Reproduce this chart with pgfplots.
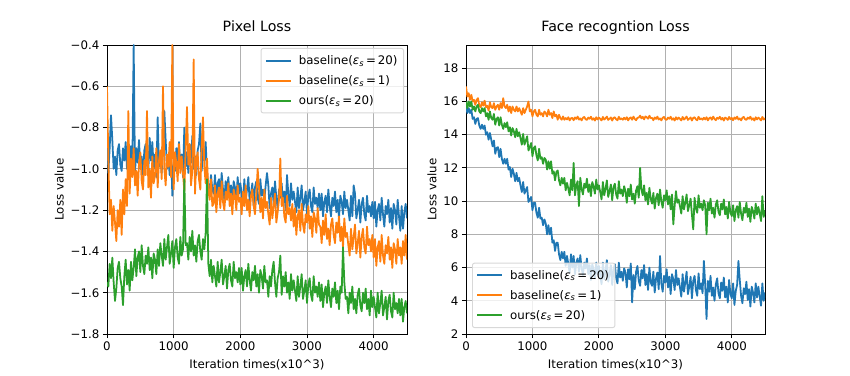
\documentclass[border=0pt]{standalone}
\usepackage{pgfplots}
\pgfplotsset{compat=1.18}
\usepackage{fontspec}
\setmainfont{DejaVu Sans}
\definecolor{c1}{HTML}{1F77B4}
\definecolor{c2}{HTML}{FF7F0E}
\definecolor{c3}{HTML}{2CA02C}
\definecolor{gridc}{HTML}{B0B0B0}
\definecolor{legc}{HTML}{D8D8D8}
\newcommand{\fs}{\fontsize{11.8}{14}\selectfont}
\pgfplotsset{
  myax/.style={
    scale only axis, width=300pt, height=289pt,
    xmin=0, xmax=4500,
    xtick={0,1000,2000,3000,4000},
    xticklabels={0,1000,2000,3000,4000},
    xtick pos=left, ytick pos=left,
    tick align=outside, major tick length=4.1pt,
    tick style={black, line width=0.94pt},
    axis line style={line width=0.94pt},
    grid=major, major grid style={gridc, line width=0.94pt},
    tick label style={font=\fs},
    label style={font=\fs},
    title style={font=\fontsize{14.2}{17}\selectfont, at={(0.5,1)}, anchor=base, yshift=7pt},
    xlabel={Iteration times(x10\textasciicircum 3)},
    xlabel style={at={(0.5,0)}, anchor=base, yshift=-34pt},
    ylabel={Loss value},
    legend cell align=left,
    legend image code/.code={\draw[##1] (0pt,0pt) -- (25pt,0pt);},
    legend style={draw=legc, fill=white, fill opacity=0.8, text opacity=1, line width=0.94pt,
      rounded corners=2pt, font=\fs, row sep=5.5pt, column sep=5pt, inner xsep=4pt, inner ysep=5pt},
  },
  b1/.style={c1, line width=1.77pt, line join=round},
  b2/.style={c2, line width=1.77pt, line join=round},
  b3/.style={c3, line width=1.77pt, line join=round},
}
\begin{document}
\begin{tikzpicture}
\path[use as bounding box] (0,0) rectangle (850pt,375pt);
\begin{axis}[myax, at={(107pt,41pt)}, anchor=south west,
  title={Pixel Loss},
  ymin=-1.8, ymax=-0.4,
  ytick={-1.8,-1.6,-1.4,-1.2,-1.0,-0.8,-0.6,-0.4},
  yticklabels={−1.8,−1.6,−1.4,−1.2,−1.0,−0.8,−0.6,−0.4},
  legend style={at={(1,1)}, anchor=north east, xshift=-3pt, yshift=-3pt},
]
\addplot[b1] table[header=false, row sep=\\, x expr=\coordindex*20, y index=0] {
-0.75\\ -1.02\\ -0.90\\ -0.74\\ -0.86\\ -1.00\\ -0.94\\ -1.03\\ -0.91\\ -0.88\\
-0.98\\ -1.01\\ -0.90\\ -0.96\\ -0.87\\ -1.00\\ -0.93\\ -1.04\\ -0.89\\ -0.99\\
-0.40\\ -1.02\\ -0.90\\ -0.97\\ -0.86\\ -1.00\\ -0.94\\ -1.03\\ -0.91\\ -0.88\\
-0.98\\ -1.01\\ -0.85\\ -0.96\\ -0.87\\ -1.00\\ -0.93\\ -1.04\\ -0.75\\ -0.99\\
-0.92\\ -1.02\\ -0.90\\ -0.72\\ -0.86\\ -1.00\\ -0.94\\ -1.03\\ -0.91\\ -1.13\\
-0.98\\ -1.01\\ -0.90\\ -0.96\\ -0.87\\ -1.00\\ -0.93\\ -1.04\\ -0.80\\ -0.99\\
-0.92\\ -1.02\\ -0.88\\ -0.97\\ -0.84\\ -1.00\\ -0.94\\ -1.03\\ -0.91\\ -0.88\\
-0.78\\ -1.01\\ -0.90\\ -0.96\\ -0.87\\ -1.02\\ -1.08\\ -1.12\\ -1.03\\ -1.10\\
-1.12\\ -1.03\\ -1.15\\ -1.07\\ -1.05\\ -1.13\\ -1.02\\ -1.10\\ -1.15\\ -1.06\\
-1.11\\ -1.04\\ -1.14\\ -1.08\\ -1.17\\ -1.06\\ -1.09\\ -1.15\\ -1.04\\ -1.12\\
-1.07\\ -1.12\\ -1.17\\ -1.05\\ -1.15\\ -1.10\\ -1.04\\ -1.16\\ -1.12\\ -1.07\\
-1.18\\ -1.09\\ -1.06\\ -1.14\\ -1.17\\ -1.05\\ -1.13\\ -1.10\\ -1.15\\ -1.08\\
-1.02\\ -1.08\\ -1.19\\ -1.12\\ -1.09\\ -1.17\\ -1.06\\ -1.14\\ -1.19\\ -1.10\\
-1.14\\ -1.07\\ -1.17\\ -1.11\\ -1.20\\ -1.03\\ -1.12\\ -1.18\\ -1.07\\ -1.15\\
-1.11\\ -1.16\\ -1.21\\ -1.09\\ -1.19\\ -1.14\\ -1.08\\ -1.20\\ -1.16\\ -1.11\\
-1.22\\ -1.13\\ -1.10\\ -1.18\\ -1.21\\ -1.09\\ -1.17\\ -1.14\\ -1.19\\ -1.12\\
-1.20\\ -1.12\\ -1.23\\ -1.16\\ -1.13\\ -1.21\\ -1.10\\ -1.18\\ -1.23\\ -1.14\\
-1.18\\ -1.11\\ -1.21\\ -1.15\\ -1.24\\ -1.13\\ -1.16\\ -1.22\\ -1.11\\ -1.19\\
-1.15\\ -1.20\\ -1.25\\ -1.13\\ -1.23\\ -1.08\\ -1.12\\ -1.24\\ -1.20\\ -1.15\\
-1.26\\ -1.17\\ -1.14\\ -1.22\\ -1.25\\ -1.13\\ -1.21\\ -1.18\\ -1.23\\ -1.16\\
-1.24\\ -1.16\\ -1.28\\ -1.20\\ -1.17\\ -1.25\\ -1.14\\ -1.22\\ -1.28\\ -1.18\\
-1.22\\ -1.15\\ -1.26\\ -1.19\\ -1.29\\ -1.17\\ -1.20\\ -1.27\\ -1.15\\ -1.23\\
-1.30\\ -1.18\\ -1.29\\ -1.21\\ -1.17\\ -1.24\\
};
\addlegendentry{baseline(\textit{ε}\textsubscript{\textit{s}}\,=\,20)}
\addplot[b2] table[header=false, row sep=\\, x expr=\coordindex*20, y index=0] {
-0.60\\ -0.95\\ -1.22\\ -1.15\\ -1.30\\ -1.18\\ -1.26\\ -1.35\\ -1.20\\ -1.28\\
-1.15\\ -1.32\\ -1.10\\ -1.22\\ -1.05\\ -1.18\\ -0.72\\ -1.12\\ -0.95\\ -1.04\\
-0.90\\ -1.08\\ -1.01\\ -1.13\\ -0.97\\ -0.92\\ -1.06\\ -1.10\\ -0.96\\ -1.03\\
-0.72\\ -1.09\\ -1.00\\ -1.14\\ -0.94\\ -1.07\\ -1.03\\ -0.90\\ -1.09\\ -0.96\\
-0.91\\ -1.05\\ -0.60\\ -1.00\\ -1.08\\ -0.93\\ -0.99\\ -0.87\\ -1.04\\ -0.40\\
-1.10\\ -0.92\\ -0.97\\ -1.06\\ -0.88\\ -1.02\\ -0.94\\ -1.02\\ -1.11\\ -0.90\\
-0.70\\ -0.98\\ -0.88\\ -1.08\\ -1.01\\ -0.47\\ -1.12\\ -0.96\\ -0.92\\ -1.05\\
-1.10\\ -0.89\\ -0.75\\ -0.99\\ -1.07\\ -0.95\\ -1.10\\ -1.15\\ -1.05\\ -1.18\\
-1.17\\ -1.08\\ -1.21\\ -1.12\\ -1.09\\ -1.19\\ -1.06\\ -1.16\\ -1.20\\ -1.11\\
-1.15\\ -1.07\\ -1.18\\ -1.12\\ -1.22\\ -1.10\\ -1.13\\ -1.20\\ -1.08\\ -1.16\\
-1.14\\ -1.22\\ -1.11\\ -1.18\\ -1.08\\ -1.20\\ -1.15\\ -1.23\\ -1.13\\ -1.10\\
-1.18\\ -1.22\\ -1.12\\ -1.00\\ -1.09\\ -1.21\\ -1.14\\ -1.24\\ -1.10\\ -1.19\\
-1.16\\ -1.22\\ -1.27\\ -1.14\\ -1.24\\ -1.18\\ -1.12\\ -1.26\\ -1.21\\ -1.15\\
-0.95\\ -1.18\\ -1.14\\ -1.23\\ -1.26\\ -1.13\\ -1.22\\ -1.19\\ -1.25\\ -1.17\\
-1.28\\ -1.19\\ -1.32\\ -1.23\\ -1.20\\ -1.30\\ -1.17\\ -1.27\\ -1.31\\ -1.22\\
-1.26\\ -1.18\\ -1.29\\ -1.23\\ -1.33\\ -1.21\\ -1.24\\ -1.31\\ -1.19\\ -1.27\\
-1.28\\ -1.36\\ -1.25\\ -1.32\\ -1.22\\ -1.34\\ -1.29\\ -1.37\\ -1.27\\ -1.24\\
-1.32\\ -1.36\\ -1.26\\ -1.31\\ -1.23\\ -1.35\\ -1.28\\ -1.38\\ -1.24\\ -1.33\\
-1.31\\ -1.37\\ -1.42\\ -1.29\\ -1.39\\ -1.33\\ -1.27\\ -1.41\\ -1.36\\ -1.30\\
-1.43\\ -1.33\\ -1.29\\ -1.38\\ -1.41\\ -1.28\\ -1.37\\ -1.34\\ -1.40\\ -1.32\\
-1.43\\ -1.34\\ -1.47\\ -1.38\\ -1.35\\ -1.45\\ -1.32\\ -1.42\\ -1.46\\ -1.37\\
-1.41\\ -1.33\\ -1.44\\ -1.38\\ -1.48\\ -1.36\\ -1.39\\ -1.46\\ -1.34\\ -1.42\\
-1.38\\ -1.46\\ -1.35\\ -1.42\\ -1.32\\ -1.44\\
};
\addlegendentry{baseline(\textit{ε}\textsubscript{\textit{s}}\,=\,1)}
\addplot[b3] table[header=false, row sep=\\, x expr=\coordindex*20, y index=0] {
-1.55\\ -1.57\\ -1.46\\ -1.53\\ -1.43\\ -1.55\\ -1.64\\ -1.58\\ -1.48\\ -1.45\\
-1.53\\ -1.57\\ -1.66\\ -1.52\\ -1.44\\ -1.56\\ -1.49\\ -1.59\\ -1.45\\ -1.54\\
-1.48\\ -1.39\\ -1.52\\ -1.43\\ -1.40\\ -1.50\\ -1.37\\ -1.47\\ -1.51\\ -1.42\\
-1.46\\ -1.38\\ -1.49\\ -1.43\\ -1.53\\ -1.41\\ -1.44\\ -1.51\\ -1.39\\ -1.47\\
-1.36\\ -1.42\\ -1.47\\ -1.34\\ -1.44\\ -1.38\\ -1.32\\ -1.46\\ -1.41\\ -1.35\\
-1.48\\ -1.38\\ -1.34\\ -1.43\\ -1.46\\ -1.33\\ -1.42\\ -1.39\\ -1.05\\ -1.37\\
-1.36\\ -1.44\\ -1.33\\ -1.40\\ -1.30\\ -1.42\\ -1.37\\ -1.45\\ -1.35\\ -1.32\\
-1.40\\ -1.44\\ -1.34\\ -1.39\\ -1.31\\ -1.05\\ -1.46\\ -1.52\\ -1.44\\ -1.55\\
-1.47\\ -1.52\\ -1.57\\ -1.45\\ -1.55\\ -1.50\\ -1.44\\ -1.56\\ -1.52\\ -1.47\\
-1.58\\ -1.49\\ -1.46\\ -1.54\\ -1.57\\ -1.45\\ -1.53\\ -1.50\\ -1.55\\ -1.48\\
-1.56\\ -1.48\\ -1.59\\ -1.52\\ -1.49\\ -1.57\\ -1.46\\ -1.54\\ -1.59\\ -1.50\\
-1.54\\ -1.47\\ -1.57\\ -1.51\\ -1.60\\ -1.49\\ -1.52\\ -1.58\\ -1.47\\ -1.55\\
-1.54\\ -1.62\\ -1.52\\ -1.57\\ -1.49\\ -1.45\\ -1.55\\ -1.62\\ -1.53\\ -1.50\\
-1.42\\ -1.61\\ -1.52\\ -1.57\\ -1.50\\ -1.60\\ -1.55\\ -1.63\\ -1.51\\ -1.59\\
-1.54\\ -1.59\\ -1.64\\ -1.52\\ -1.62\\ -1.57\\ -1.51\\ -1.63\\ -1.59\\ -1.54\\
-1.65\\ -1.56\\ -1.53\\ -1.61\\ -1.64\\ -1.52\\ -1.60\\ -1.57\\ -1.62\\ -1.55\\
-1.64\\ -1.56\\ -1.67\\ -1.60\\ -1.57\\ -1.65\\ -1.54\\ -1.62\\ -1.67\\ -1.58\\
-1.62\\ -1.55\\ -1.65\\ -1.59\\ -1.68\\ -1.57\\ -1.60\\ -1.38\\ -1.55\\ -1.63\\
-1.62\\ -1.70\\ -1.60\\ -1.65\\ -1.57\\ -1.68\\ -1.63\\ -1.70\\ -1.61\\ -1.58\\
-1.66\\ -1.69\\ -1.60\\ -1.65\\ -1.58\\ -1.68\\ -1.63\\ -1.71\\ -1.59\\ -1.67\\
-1.62\\ -1.67\\ -1.72\\ -1.60\\ -1.70\\ -1.65\\ -1.59\\ -1.71\\ -1.67\\ -1.62\\
-1.73\\ -1.64\\ -1.61\\ -1.69\\ -1.72\\ -1.60\\ -1.68\\ -1.65\\ -1.70\\ -1.63\\
-1.71\\ -1.63\\ -1.74\\ -1.67\\ -1.64\\ -1.70\\
};
\addlegendentry{ours(\textit{ε}\textsubscript{\textit{s}}\,=\,20)}
\end{axis}
\begin{axis}[myax, at={(466pt,41pt)}, anchor=south west, width=299pt,
  title={Face recogntion Loss},
  ymin=2, ymax=19.4,
  ytick={2,4,6,8,10,12,14,16,18},
  yticklabels={2,4,6,8,10,12,14,16,18},
  legend style={at={(0,0)}, anchor=south west, xshift=6pt, yshift=6pt},
]
\addplot[b1] table[header=false, row sep=\\, x expr=\coordindex*20, y index=0] {
15.8\\ 15.3\\ 15.6\\ 15.3\\ 15.5\\ 14.95\\ 15.05\\ 14.65\\ 14.95\\ 15.0\\
14.55\\ 14.35\\ 14.6\\ 14.35\\ 14.55\\ 14.0\\ 14.15\\ 13.7\\ 14.1\\ 13.7\\
13.3\\ 13.65\\ 12.85\\ 13.2\\ 13.25\\ 12.65\\ 13.15\\ 12.55\\ 12.25\\ 12.55\\
12.25\\ 12.55\\ 11.9\\ 12.05\\ 11.45\\ 11.95\\ 11.65\\ 11.2\\ 11.7\\ 11.2\\
11.4\\ 10.95\\ 10.55\\ 11.15\\ 10.45\\ 10.65\\ 10.85\\ 9.95\\ 10.1\\ 10.25\\
9.45\\ 9.9\\ 9.9\\ 9.3\\ 9.0\\ 9.6\\ 8.95\\ 9.0\\ 8.55\\ 8.9\\
8.65\\ 8.0\\ 8.55\\ 8.0\\ 8.4\\ 7.5\\ 7.65\\ 7.0\\ 7.5\\ 7.5\\
6.8\\ 6.45\\ 6.95\\ 6.55\\ 6.95\\ 6.1\\ 6.7\\ 6.2\\ 5.7\\ 6.8\\
6.0\\ 6.7\\ 5.6\\ 6.3\\ 6.55\\ 5.75\\ 6.75\\ 5.95\\ 5.55\\ 6.3\\
5.95\\ 6.55\\ 5.6\\ 6.15\\ 5.25\\ 6.2\\ 5.9\\ 5.35\\ 6.3\\ 5.6\\
6.1\\ 5.55\\ 5.0\\ 6.3\\ 5.3\\ 5.85\\ 6.45\\ 5.15\\ 5.6\\ 6.15\\
4.95\\ 5.9\\ 6.2\\ 5.35\\ 5.05\\ 6.3\\ 5.4\\ 5.75\\ 5.2\\ 5.95\\
5.7\\ 4.8\\ 5.9\\ 5.3\\ 6.25\\ 3.9\\ 5.55\\ 4.7\\ 5.75\\ 6.1\\
5.2\\ 4.9\\ 5.85\\ 5.35\\ 6.15\\ 4.95\\ 5.6\\ 4.65\\ 6.0\\ 5.1\\
4.9\\ 5.75\\ 4.5\\ 5.35\\ 5.7\\ 4.7\\ 6.7\\ 5.05\\ 4.55\\ 5.5\\
5.1\\ 5.9\\ 4.8\\ 5.45\\ 4.4\\ 5.6\\ 5.3\\ 4.65\\ 5.85\\ 4.95\\
5.35\\ 4.8\\ 4.25\\ 5.6\\ 4.55\\ 5.1\\ 5.75\\ 4.4\\ 4.85\\ 5.45\\
4.15\\ 5.2\\ 5.5\\ 4.65\\ 4.3\\ 5.65\\ 4.7\\ 5.05\\ 4.45\\ 6.4\\
4.95\\ 2.9\\ 5.2\\ 4.55\\ 5.5\\ 4.3\\ 4.8\\ 4.0\\ 5.0\\ 5.35\\
4.45\\ 4.15\\ 5.1\\ 4.6\\ 5.4\\ 4.2\\ 4.85\\ 3.9\\ 5.25\\ 4.4\\
4.15\\ 5.05\\ 3.75\\ 4.6\\ 4.95\\ 6.4\\ 5.25\\ 4.3\\ 3.85\\ 4.75\\
4.4\\ 5.15\\ 4.05\\ 4.7\\ 3.65\\ 4.85\\ 4.5\\ 3.9\\ 5.05\\ 4.2\\
4.85\\ 4.25\\ 3.7\\ 5.05\\ 4.0\\ 4.5\\
};
\addlegendentry{baseline(\textit{ε}\textsubscript{\textit{s}}\,=\,20)}
\addplot[b2] table[header=false, row sep=\\, x expr=\coordindex*20, y index=0] {
16.9\\ 16.3\\ 16.5\\ 16.1\\ 16.4\\ 16.0\\ 16.1\\ 15.8\\ 16.1\\ 16.2\\
15.75\\ 15.65\\ 15.95\\ 15.75\\ 16.05\\ 15.65\\ 15.75\\ 15.45\\ 15.95\\ 15.65\\
15.6\\ 15.9\\ 15.5\\ 15.7\\ 15.8\\ 15.5\\ 15.9\\ 15.6\\ 16.2\\ 15.7\\
15.6\\ 15.8\\ 15.4\\ 15.7\\ 15.3\\ 15.7\\ 15.5\\ 15.4\\ 15.7\\ 15.4\\
15.6\\ 15.4\\ 15.2\\ 15.6\\ 15.3\\ 15.5\\ 15.7\\ 16.0\\ 15.4\\ 15.5\\
15.1\\ 15.4\\ 15.5\\ 15.2\\ 15.1\\ 15.5\\ 15.2\\ 15.3\\ 15.1\\ 15.4\\
15.3\\ 15.1\\ 15.5\\ 15.2\\ 15.3\\ 15.0\\ 15.4\\ 15.1\\ 15.2\\ 14.9\\
15.2\\ 15.0\\ 14.9\\ 15.1\\ 14.9\\ 15.0\\ 14.92\\ 15.05\\ 14.86\\ 14.99\\
15.01\\ 14.87\\ 15.04\\ 14.95\\ 15.09\\ 14.91\\ 14.98\\ 14.86\\ 15.02\\ 15.07\\
14.93\\ 14.89\\ 15.03\\ 14.96\\ 15.08\\ 14.90\\ 14.99\\ 14.85\\ 15.05\\ 14.92\\
15.03\\ 14.95\\ 14.86\\ 15.07\\ 14.91\\ 14.99\\ 15.09\\ 14.89\\ 14.96\\ 15.04\\
14.85\\ 15.01\\ 15.05\\ 14.92\\ 14.87\\ 15.08\\ 14.93\\ 14.98\\ 14.90\\ 15.02\\
14.92\\ 15.05\\ 14.86\\ 14.99\\ 15.04\\ 14.90\\ 15.09\\ 14.95\\ 14.87\\ 15.02\\
15.03\\ 15.15\\ 14.98\\ 15.08\\ 14.92\\ 15.10\\ 15.05\\ 14.96\\ 15.14\\ 15.00\\
15.01\\ 14.87\\ 15.04\\ 14.95\\ 15.09\\ 14.91\\ 14.98\\ 14.86\\ 15.02\\ 15.07\\
14.93\\ 14.89\\ 15.03\\ 14.96\\ 15.08\\ 14.90\\ 14.99\\ 14.85\\ 15.05\\ 14.92\\
15.03\\ 14.95\\ 14.86\\ 15.07\\ 14.91\\ 14.99\\ 15.09\\ 14.89\\ 14.96\\ 15.04\\
14.85\\ 15.01\\ 15.05\\ 14.92\\ 14.87\\ 15.08\\ 14.93\\ 14.98\\ 14.90\\ 15.02\\
14.92\\ 15.05\\ 14.86\\ 14.99\\ 15.04\\ 14.90\\ 15.09\\ 14.95\\ 14.87\\ 15.02\\
14.96\\ 15.08\\ 14.91\\ 15.01\\ 14.85\\ 15.03\\ 14.98\\ 14.89\\ 15.07\\ 14.93\\
15.01\\ 14.87\\ 15.04\\ 14.95\\ 15.09\\ 14.91\\ 14.98\\ 14.86\\ 15.02\\ 15.07\\
14.93\\ 14.89\\ 15.03\\ 14.96\\ 15.08\\ 14.90\\ 14.99\\ 14.85\\ 15.05\\ 14.92\\
15.03\\ 14.95\\ 14.86\\ 15.07\\ 14.91\\ 14.99\\
};
\addlegendentry{baseline(\textit{ε}\textsubscript{\textit{s}}\,=\,1)}
\addplot[b3] table[header=false, row sep=\\, x expr=\coordindex*20, y index=0] {
16.0\\ 15.6\\ 16.0\\ 15.7\\ 16.0\\ 15.5\\ 15.7\\ 15.4\\ 15.7\\ 15.8\\
15.4\\ 15.3\\ 15.6\\ 15.4\\ 15.6\\ 15.1\\ 15.3\\ 14.9\\ 15.4\\ 15.0\\
14.9\\ 15.25\\ 14.6\\ 14.95\\ 15.05\\ 14.55\\ 15.05\\ 14.6\\ 14.35\\ 14.7\\
14.45\\ 14.75\\ 14.2\\ 14.45\\ 13.95\\ 14.4\\ 14.2\\ 13.85\\ 14.35\\ 13.9\\
14.15\\ 13.8\\ 13.4\\ 14.05\\ 13.4\\ 13.65\\ 13.9\\ 13.05\\ 13.25\\ 13.5\\
12.7\\ 13.2\\ 13.3\\ 12.75\\ 12.45\\ 13.15\\ 12.55\\ 12.65\\ 12.25\\ 12.6\\
12.5\\ 11.9\\ 12.4\\ 11.95\\ 12.4\\ 11.65\\ 11.8\\ 11.25\\ 11.75\\ 11.85\\
11.25\\ 10.95\\ 11.4\\ 11.05\\ 11.4\\ 10.65\\ 11.1\\ 10.75\\ 10.35\\ 11.3\\
10.65\\ 12.3\\ 10.35\\ 10.95\\ 11.2\\ 9.7\\ 11.4\\ 10.75\\ 10.4\\ 11.05\\
10.8\\ 11.35\\ 10.55\\ 11.0\\ 10.3\\ 11.15\\ 10.9\\ 10.45\\ 11.3\\ 10.7\\
10.95\\ 10.55\\ 10.1\\ 11.15\\ 10.35\\ 10.75\\ 11.25\\ 10.25\\ 10.6\\ 11.0\\
10.05\\ 10.85\\ 11.05\\ 10.4\\ 10.15\\ 11.2\\ 10.45\\ 10.7\\ 10.3\\ 10.9\\
10.6\\ 9.9\\ 10.75\\ 10.3\\ 11.0\\ 10.1\\ 10.45\\ 9.85\\ 10.65\\ 10.9\\
10.2\\ 12.0\\ 10.7\\ 10.35\\ 10.95\\ 10.05\\ 10.5\\ 9.8\\ 10.8\\ 10.15\\
9.85\\ 10.5\\ 9.55\\ 10.2\\ 10.45\\ 9.75\\ 10.7\\ 10.0\\ 9.6\\ 10.35\\
10.05\\ 10.65\\ 9.8\\ 10.3\\ 9.5\\ 10.4\\ 8.6\\ 9.7\\ 10.6\\ 9.9\\
10.1\\ 9.7\\ 9.25\\ 10.3\\ 9.5\\ 9.9\\ 10.4\\ 9.4\\ 9.75\\ 10.15\\
9.2\\ 8.3\\ 10.2\\ 9.55\\ 9.3\\ 10.35\\ 9.6\\ 9.85\\ 9.45\\ 10.05\\
9.75\\ 8.0\\ 9.9\\ 9.45\\ 10.15\\ 9.25\\ 9.6\\ 9.0\\ 9.8\\ 10.05\\
9.35\\ 9.15\\ 9.85\\ 9.5\\ 10.1\\ 9.2\\ 9.65\\ 8.95\\ 9.95\\ 9.3\\
9.1\\ 9.75\\ 8.8\\ 9.45\\ 9.7\\ 9.0\\ 9.95\\ 9.25\\ 8.85\\ 9.6\\
9.3\\ 9.9\\ 9.05\\ 9.55\\ 8.75\\ 9.65\\ 9.4\\ 8.95\\ 9.85\\ 9.2\\
9.65\\ 9.25\\ 8.8\\ 10.3\\ 9.05\\ 9.45\\
};
\addlegendentry{ours(\textit{ε}\textsubscript{\textit{s}}\,=\,20)}
\end{axis}
\end{tikzpicture}
\end{document}
